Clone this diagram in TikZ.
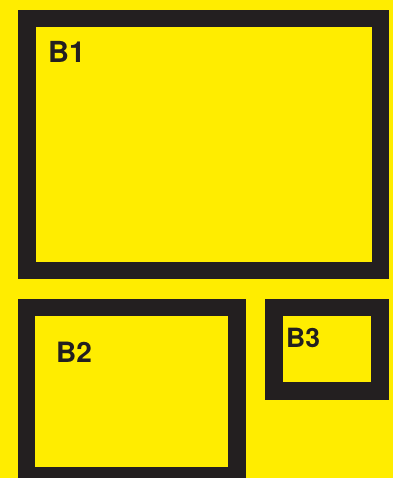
\documentclass[tikz,border=0pt]{standalone}
\usepackage{fontspec}
\setmainfont{TeX Gyre Heros}
\definecolor{bg}{HTML}{FFED00}
\definecolor{ink}{HTML}{231F20}
\begin{document}
\begin{tikzpicture}[x=1pt,y=-1pt,
  box/.style={draw=ink, line width=17.5pt, rectangle, inner sep=0pt, outer sep=0pt, miter limit=10},
  lbl/.style={text=ink, font=\bfseries, inner sep=0pt, anchor=base west}]
\fill[bg] (0,0) rectangle (393,478);
\useasboundingbox (0,0) rectangle (393,478);
\begin{scope}
\clip (0,0) rectangle (393,478);
\node[box, minimum width=353.5pt, minimum height=251.5pt] (b1) at (203.5,144.5) {};
\node[box, minimum width=210.5pt, minimum height=168pt] (b2) at (131.75,391.5) {};
\node[box, minimum width=106pt, minimum height=83.5pt] (b3) at (327,349.25) {};
\end{scope}
\node[lbl, font=\bfseries\fontsize{29}{29}\selectfont] (t1) at (48,63) {B1};
\node[lbl, font=\bfseries\fontsize{28}{28}\selectfont] (t2) at (56,362) {B2};
\node[lbl, font=\bfseries\fontsize{26.5}{26.5}\selectfont] (t3) at (286,347) {B3};
\end{tikzpicture}
\end{document}
